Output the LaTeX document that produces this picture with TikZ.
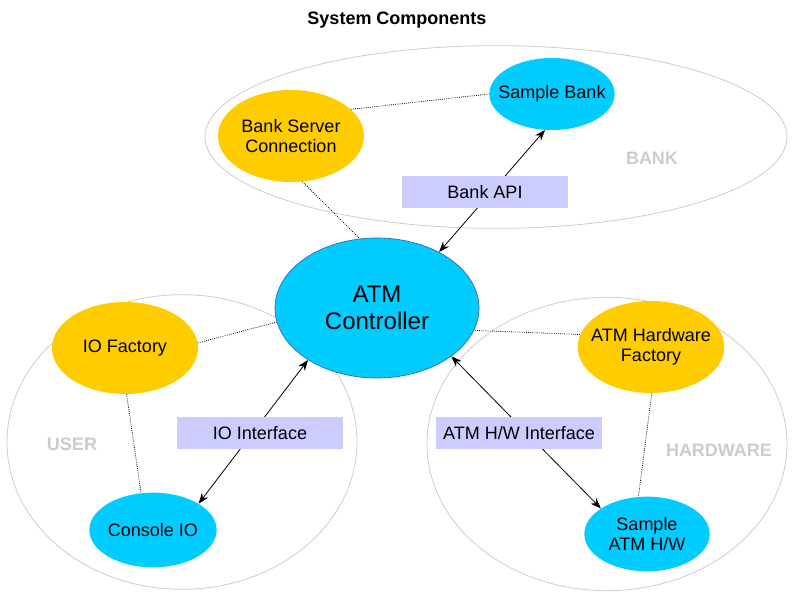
\documentclass[tikz,border=0pt]{standalone}
\usepackage{fontspec}
\setmainfont{Liberation Sans}
\usetikzlibrary{positioning}
\usetikzlibrary{shapes.geometric}
\usetikzlibrary{arrows.meta}
\definecolor{implblue}{HTML}{00CCFF}
\definecolor{factorygold}{HTML}{FFCC00}
\definecolor{apibox}{HTML}{CCCCFF}
\definecolor{groupgray}{HTML}{CCCCCC}
\definecolor{ctrlline}{HTML}{3465A4}

\begin{document}
\begin{tikzpicture}[x=0.75pt, y=-0.75pt,
		every node/.style={font=\fontsize{13.5}{15}\selectfont, align=center},
		group/.style={ellipse, draw=groupgray, line width=0.6pt, inner sep=0pt},
		grouplabel/.style={text=groupgray, font=\fontsize{13.5}{15}\selectfont\bfseries},
		impl/.style={ellipse, fill=implblue, inner sep=0pt, minimum width=94pt, minimum height=56pt},
		factory/.style={ellipse, fill=factorygold, inner sep=0pt, minimum width=109.5pt, minimum height=69pt},
		api/.style={fill=apibox, inner sep=0pt, minimum width=124.5pt, minimum height=24pt},
		link/.style={densely dotted, line width=0.6pt},
		call/.style={{Stealth[length=8pt,width=6pt]}-{Stealth[length=8pt,width=6pt]}, line width=0.6pt}]
	\useasboundingbox (0,0) rectangle (794,595);
	\node[font=\fontsize{13.5}{15}\selectfont\bfseries] (title) at (397,20) {System Components};

	\node[group, minimum width=436.5pt, minimum height=137pt] (bank) at (496,137) {};
	\node[group, minimum width=262.5pt, minimum height=221pt] (user) at (182,442) {};
	\node[group, minimum width=270pt, minimum height=220pt] (hardware) at (607,444) {};
	\node[grouplabel] (banklabel) at (652,158) {BANK};
	\node[grouplabel] (userlabel) at (72,444) {USER};
	\node[grouplabel] (hwlabel) at (719,450) {HARDWARE};

	\node[ellipse, fill=implblue, draw=ctrlline, line width=0.5pt, inner sep=0pt,
		minimum width=153pt, minimum height=105pt, font=\fontsize{18}{20}\selectfont] (atm) at (377,308) {ATM\\Controller};

	\node[factory] (bankserver) at (291,136) {Bank Server\\Connection};
	\node[impl, minimum height=54pt, inner xsep=-7pt] (samplebank) at (552,94) {Sample Bank};
	\node[factory] (iofactory) at (125,348) {IO Factory};
	\node[impl] (consoleio) at (153,530) {Console IO};
	\node[factory, inner xsep=-6pt] (hwfactory) at (651,347) {ATM Hardware\\Factory};
	\node[impl] (samplehw) at (647,534) {Sample\\ATM H/W};

	\draw[link] (bankserver.24) -- (samplebank.180);
	\draw[link] (bankserver.-76) -- (atm.104);
	\draw[link] (iofactory.4) -- (atm.188);
	\draw[link] (iofactory.-88) -- (consoleio.108);
	\draw[link] (hwfactory.170) -- (atm.-13);
	\draw[link] (hwfactory.-89) -- (samplehw.103);

	\draw[call] (atm.42) -- (samplebank.-101);
	\draw[call] (atm.217) -- (consoleio.30);
	\draw[call] (atm.-33) -- (samplehw.151);

	\node[api] (bankapi) at (485,192) {Bank API};
	\node[api] (iointerface) at (260,433) {IO Interface};
	\node[api] (hwinterface) at (519,433) {ATM H/W Interface};
\end{tikzpicture}
\end{document}
